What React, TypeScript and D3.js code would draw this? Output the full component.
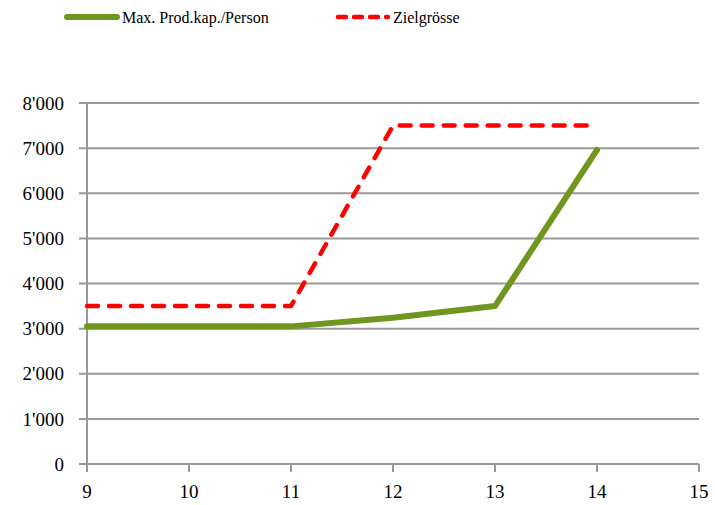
import { useEffect, useRef } from 'react';
import * as d3 from 'd3';

const xValues = [9, 11, 12, 13, 14];
const prodKap = [3050, 3050, 3240, 3500, 6960];
const zielgroesse = [3500, 3500, 7500, 7500, 7500];
const xTicks = [9, 10, 11, 12, 13, 14, 15];
const yTicks = [0, 1000, 2000, 3000, 4000, 5000, 6000, 7000, 8000];
const seriesNames = ['Max. Prod.kap./Person', 'Zielgrösse'];

const width = 715;
const height = 505;
const margin = { top: 103, right: 16, bottom: 41, left: 87 };
const font = '"Liberation Serif", "Times New Roman", serif';
const green = '#6f961f';
const red = '#ff0000';
const grid = '#999999';

const App = () => {
  const svgRef = useRef<SVGSVGElement>(null);

  useEffect(() => {
    if (!svgRef.current) return;
    const svg = d3.select(svgRef.current);
    svg.selectAll('*').remove();

    const x = d3.scaleLinear().domain([9, 15]).range([margin.left, width - margin.right]);
    const y = d3.scaleLinear().domain([0, 8000]).range([height - margin.bottom, margin.top]);

    // gridlines, sticking out left as ticks
    svg.append('g')
      .selectAll('line')
      .data(yTicks)
      .enter()
      .append('line')
      .attr('x1', margin.left - 8)
      .attr('x2', width - margin.right)
      .attr('y1', d => y(d))
      .attr('y2', d => y(d))
      .attr('stroke', grid)
      .attr('stroke-width', 2);

    // y axis
    svg.append('line')
      .attr('x1', margin.left).attr('x2', margin.left)
      .attr('y1', y(8000)).attr('y2', y(0) + 8)
      .attr('stroke', grid).attr('stroke-width', 2);

    // x ticks
    svg.append('g')
      .selectAll('line')
      .data(xTicks)
      .enter()
      .append('line')
      .attr('x1', d => x(d)).attr('x2', d => x(d))
      .attr('y1', y(0)).attr('y2', y(0) + 8)
      .attr('stroke', grid).attr('stroke-width', 2);

    const fmt = (v: number) => (v === 0 ? '0' : d3.format(',')(v).replace(',', "'"));
    svg.append('g')
      .selectAll('text')
      .data(yTicks)
      .enter()
      .append('text')
      .attr('x', margin.left - 23)
      .attr('y', d => y(d))
      .attr('dy', '0.35em')
      .attr('text-anchor', 'end')
      .style('font-family', font)
      .style('font-size', '19px')
      .text(d => fmt(d));

    svg.append('g')
      .selectAll('text')
      .data(xTicks)
      .enter()
      .append('text')
      .attr('x', d => x(d))
      .attr('y', y(0) + 34)
      .attr('text-anchor', 'middle')
      .style('font-family', font)
      .style('font-size', '19px')
      .text(d => d);

    const line = d3.line<number>()
      .x((d, i) => x(xValues[i]))
      .y(d => y(d));

    svg.append('path')
      .attr('d', line(prodKap))
      .attr('fill', 'none')
      .attr('stroke', green)
      .attr('stroke-width', 6)
      .attr('stroke-linejoin', 'round')
      .attr('stroke-linecap', 'round');

    svg.append('path')
      .attr('d', line(zielgroesse))
      .attr('fill', 'none')
      .attr('stroke', red)
      .attr('stroke-width', 4.5)
      .attr('stroke-dasharray', '11,11')
      .attr('stroke-linejoin', 'round')
      .attr('stroke-linecap', 'round');

    // legend
    const legend = [
      { name: seriesNames[0], x: 67, color: green, w: 6, dash: null },
      { name: seriesNames[1], x: 338, color: red, w: 4.5, dash: '8,8' },
    ];
    legend.forEach(l => {
      const ln = svg.append('line')
        .attr('x1', l.x).attr('x2', l.x + 50)
        .attr('y1', 17).attr('y2', 17)
        .attr('stroke', l.color)
        .attr('stroke-width', l.w)
        .attr('stroke-linecap', 'round');
      if (l.dash) ln.attr('stroke-dasharray', l.dash);
      svg.append('text')
        .attr('x', l.x + 55)
        .attr('y', 17)
        .attr('dy', '0.35em')
        .style('font-family', font)
        .style('font-size', '16px')
        .text(l.name);
    });
  }, []);

  return (
    <svg
      ref={svgRef}
      width={width}
      height={height}
      style={{ position: 'absolute', left: 0, top: 0, background: '#fff' }}
    />
  );
};

export default App;
